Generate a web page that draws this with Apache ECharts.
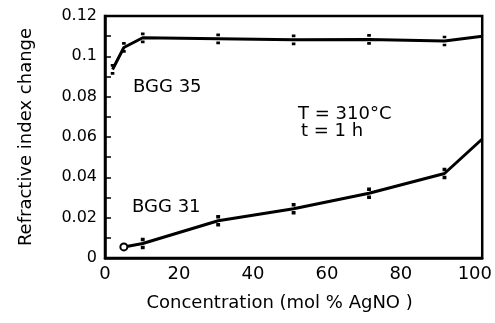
<!DOCTYPE html>
<html>
<head>
<meta charset="utf-8">
<script src="https://cdn.jsdelivr.net/npm/echarts@6/dist/echarts.min.js"></script>
<style>
html,body{margin:0;padding:0;background:#fff;}
#chart{width:495px;height:323px;}
</style>
</head>
<body>
<div id="chart"></div>
<script>
// Data
const concBGG35 = [2, 5, 10, 30, 50, 70, 90, 100];
const valBGG35 = [0.0935, 0.1044, 0.1092, 0.1087, 0.1082, 0.1084, 0.1076, 0.1100];
const concBGG31 = [5, 10, 30, 50, 70, 90, 100];
const valBGG31 = [0.0055, 0.0072, 0.0185, 0.0244, 0.0321, 0.0419, 0.0590];
const yTickLabels = ['0', '0.02', '0.04', '0.06', '0.08', '0.1', '0.12'];
const xTickLabels = ['0', '20', '40', '60', '80', '100'];

const FONT = 'DejaVu Sans';
const capSymbol = 'path://M0,0H10V2H0Z M0,16H10V18H0Z';

function buildData(xs, ys, firstSymbol) {
  return xs.map((x, i) => {
    let sym = capSymbol, size = [3, 9];
    if (i === 0 && firstSymbol) { sym = firstSymbol; size = 7; }
    if (x === 100) { sym = 'none'; }
    return { value: [x, ys[i]], symbol: sym, symbolSize: size };
  });
}

const chart = echarts.init(document.getElementById('chart'), null, { renderer: 'canvas' });
chart.setOption({
  animation: false,
  backgroundColor: '#fff',
  grid: {
    left: 105, right: 12, top: 16, bottom: 65,
    show: true, borderColor: '#000', borderWidth: 2.5, backgroundColor: 'transparent'
  },
  xAxis: [
    { // data axis
      type: 'value', min: 0, max: 100, position: 'top',
      axisLine: { show: false }, axisTick: { show: false }, axisLabel: { show: false },
      splitLine: { show: false }
    },
    { // label axis (labels in the original sit on a slightly compressed scale)
      type: 'value', min: 0, max: 102, interval: 20, position: 'bottom',
      axisLine: { show: true, lineStyle: { color: '#000', width: 2.5 } },
      axisTick: { show: false }, splitLine: { show: false },
      axisLabel: {
        color: '#000', fontFamily: FONT, fontSize: 18, margin: 7,
        showMaxLabel: false,
        formatter: v => { const i = Math.round(v / 20); return (Math.abs(v - i * 20) < 1e-6) ? (xTickLabels[i] || '') : ''; }
      },
      name: 'Concentration (mol % AgNO )', nameLocation: 'middle', nameGap: 36,
      nameTextStyle: { color: '#000', fontFamily: FONT, fontSize: 18, padding: [0, 28, 0, 0] }
    }
  ],
  yAxis: {
    type: 'value', min: 0, max: 0.12, interval: 0.01,
    axisLine: { show: true, lineStyle: { color: '#000', width: 2.5 } },
    axisTick: { show: true, inside: true, length: 6, lineStyle: { color: '#000', width: 1.5 } },
    splitLine: { show: false },
    axisLabel: {
      color: '#000', fontFamily: FONT, fontSize: 16, margin: 8,
      formatter: v => { const k = Math.round(v / 0.02); return (Math.abs(v - k * 0.02) < 1e-6) ? (yTickLabels[k] || '') : ''; }
    },
    name: 'Refractive index change', nameLocation: 'middle', nameGap: 70, nameRotate: 90,
    nameTextStyle: { color: '#000', fontFamily: FONT, fontSize: 18 }
  },
  series: [
    {
      name: 'BGG 35', type: 'line', xAxisIndex: 0,
      data: buildData(concBGG35, valBGG35, null),
      lineStyle: { color: '#000', width: 3 },
      itemStyle: { color: '#000', borderColor: '#000' },
      showAllSymbol: true
    },
    {
      name: 'BGG 31', type: 'line', xAxisIndex: 0,
      data: buildData(concBGG31, valBGG31, 'emptyCircle'),
      lineStyle: { color: '#000', width: 3 },
      itemStyle: { color: '#000', borderColor: '#000', borderWidth: 1.5 },
      showAllSymbol: true
    }
  ],
  graphic: [
    { type: 'text', left: 133, top: 78, style: { text: 'BGG 35', font: '18px "DejaVu Sans"', fill: '#000' } },
    { type: 'text', left: 132, top: 198, style: { text: 'BGG 31', font: '18px "DejaVu Sans"', fill: '#000' } },
    { type: 'text', left: 298, top: 105, style: { text: 'T = 310°C', font: '18px "DejaVu Sans"', fill: '#000' } },
    { type: 'text', left: 301, top: 122, style: { text: 't = 1 h', font: '18px "DejaVu Sans"', fill: '#000' } }
  ]
});
</script>
</body>
</html>
